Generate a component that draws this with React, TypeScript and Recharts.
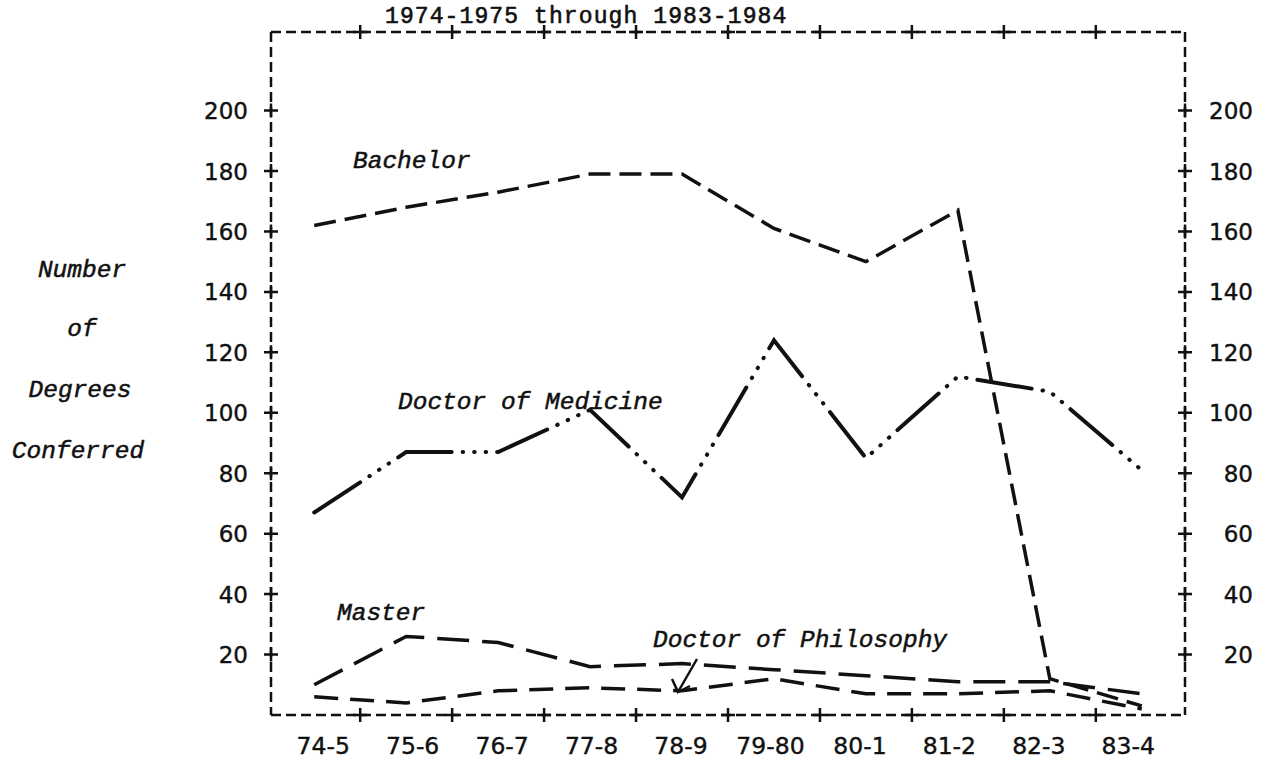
import React from "react";
import { LineChart, Line, XAxis, YAxis } from "recharts";

// academic years on the x axis
const periods = ["74-5", "75-6", "76-7", "77-8", "78-9", "79-80", "80-1", "81-2", "82-3", "83-4"];
// degrees conferred
const bachelor = [162, 168, 173, 179, 179, 161, 150, 167, 12, 3];
const medicine = [67, 87, 87, 101, 72, 124, 85, 112, 107, 81];
const master = [10, 26, 24, 16, 17, 15, 13, 11, 11, 7];
const philosophy = [6, 4, 8, 9, 8, 12, 7, 7, 8, 2];
const yTicks = [20, 40, 60, 80, 100, 120, 140, 160, 180, 200];

const data = periods.map((p, i) => ({
  x: i,
  period: p,
  bachelor: bachelor[i],
  medicine: medicine[i],
  master: master[i],
  philosophy: philosophy[i],
}));

// integer ticks carry the year label, half ticks are the "+" marks between them
const xTicks: number[] = [];
periods.forEach((_, i) => {
  xTicks.push(i);
  if (i < periods.length - 1) xTicks.push(i + 0.5);
});
const plusTicks = xTicks.filter((t) => t % 1 !== 0);

const INK = "#111";
const mono = "'Liberation Mono', 'DejaVu Sans Mono', monospace";
const sans = "'DejaVu Sans', Verdana, sans-serif";
const border = { stroke: INK, strokeWidth: 2.5, strokeDasharray: "10 5" };

const plus = (x: number, y: number) => (
  <path d={`M${x - 7},${y}H${x + 7}M${x},${y - 7}V${y + 7}`} stroke={INK} strokeWidth={2.5} />
);

function BottomTick(props: any) {
  const { x, y, payload } = props;
  const v = payload.value;
  if (v % 1 !== 0) return plus(x, y);
  // typed labels drift a little from the plotted points
  const dx = 9 - 2.5 * v;
  return (
    <text x={x + dx} y={y + 39} textAnchor="middle" fontFamily={sans} fontSize={23.5}
      fill={INK} stroke={INK} strokeWidth={0.4}>
      {periods[v]}
    </text>
  );
}

function TopTick(props: any) {
  return plus(props.x, props.y);
}

function LeftTick(props: any) {
  const { x, y, payload } = props;
  return (
    <g>
      {plus(x, y)}
      <text x={x - 23} y={y + 8.5} textAnchor="end" fontFamily={sans} fontSize={23}
        fill={INK} stroke={INK} strokeWidth={0.4}>
        {payload.value}
      </text>
    </g>
  );
}

function RightTick(props: any) {
  const { x, y, payload } = props;
  return (
    <g>
      {plus(x, y)}
      <text x={x + 68} y={y + 8.5} textAnchor="end" fontFamily={sans} fontSize={23}
        fill={INK} stroke={INK} strokeWidth={0.4}>
        {payload.value}
      </text>
    </g>
  );
}

export default function App() {
  const labelStyle = { fontFamily: mono, fontStyle: "italic", fontSize: 24.5, fill: INK, stroke: INK, strokeWidth: 0.5 };
  return (
    <div style={{ position: "absolute", left: 0, top: 0, width: 1273, height: 761, background: "#fff" }}>
      <LineChart width={1273} height={761} data={data} margin={{ top: 30, right: 0, left: 0, bottom: 0 }}>
        <XAxis
          xAxisId="bottom"
          dataKey="x"
          type="number"
          domain={[-0.47, 9.47]}
          allowDataOverflow
          ticks={xTicks}
          interval={0}
          height={46}
          tickSize={0}
          tickMargin={0}
          tickLine={false}
          axisLine={border}
          tick={<BottomTick />}
        />
        <XAxis
          xAxisId="top"
          orientation="top"
          dataKey="x"
          type="number"
          domain={[-0.47, 9.47]}
          allowDataOverflow
          ticks={plusTicks}
          interval={0}
          height={2}
          tickSize={0}
          tickMargin={0}
          tickLine={false}
          axisLine={border}
          tick={<TopTick />}
        />
        <YAxis
          yAxisId="left"
          type="number"
          domain={[0, 226]}
          ticks={yTicks}
          interval={0}
          width={271}
          tickSize={0}
          tickMargin={0}
          tickLine={false}
          axisLine={border}
          tick={<LeftTick />}
        />
        <YAxis
          yAxisId="right"
          orientation="right"
          type="number"
          domain={[0, 226]}
          ticks={yTicks}
          interval={0}
          width={88}
          tickSize={0}
          tickMargin={0}
          tickLine={false}
          axisLine={border}
          tick={<RightTick />}
        />
        <Line xAxisId="bottom" yAxisId="left" type="linear" dataKey="bachelor" stroke={INK} strokeWidth={3.5}
          strokeDasharray="22 9" dot={false} isAnimationActive={false} />
        <Line xAxisId="bottom" yAxisId="left" type="linear" dataKey="medicine" stroke={INK} strokeWidth={4}
          strokeLinecap="round" strokeDasharray="55 11 0.5 11 0.5 11 0.5 11" dot={false} isAnimationActive={false} />
        <Line xAxisId="bottom" yAxisId="left" type="linear" dataKey="master" stroke={INK} strokeWidth={3.5}
          strokeDasharray="32 13" dot={false} isAnimationActive={false} />
        <Line xAxisId="bottom" yAxisId="left" type="linear" dataKey="philosophy" stroke={INK} strokeWidth={3.5}
          strokeDasharray="24 12" dot={false} isAnimationActive={false} />
        {/* invisible copy so the top and right frame axes have a series */}
        <Line xAxisId="top" yAxisId="right" type="linear" dataKey="philosophy" stroke="none" strokeWidth={0}
          dot={false} activeDot={false} legendType="none" isAnimationActive={false} />
      </LineChart>
      <svg width={1273} height={761} style={{ position: "absolute", left: 0, top: 0, pointerEvents: "none" }}>
        <text x={385} y={23} fontFamily={mono} fontSize={23} letterSpacing={1.1} fill={INK} stroke={INK} strokeWidth={0.6}>
          1974-1975 through 1983-1984
        </text>
        <g style={labelStyle as any} textAnchor="middle">
          <text x={82} y={277}>Number</text>
          <text x={82} y={336}>of</text>
          <text x={80} y={397}>Degrees</text>
          <text x={78} y={458}>Conferred</text>
        </g>
        <g style={labelStyle as any}>
          <text x={353} y={168}>Bachelor</text>
          <text x={398} y={409}>Doctor of Medicine</text>
          <text x={337} y={620}>Master</text>
          <text x={653} y={647}>Doctor of Philosophy</text>
        </g>
        <path d="M697,659 L678,692 M672,679 L678,692 L690,686" stroke={INK} strokeWidth={2.5} fill="none" />
      </svg>
    </div>
  );
}
